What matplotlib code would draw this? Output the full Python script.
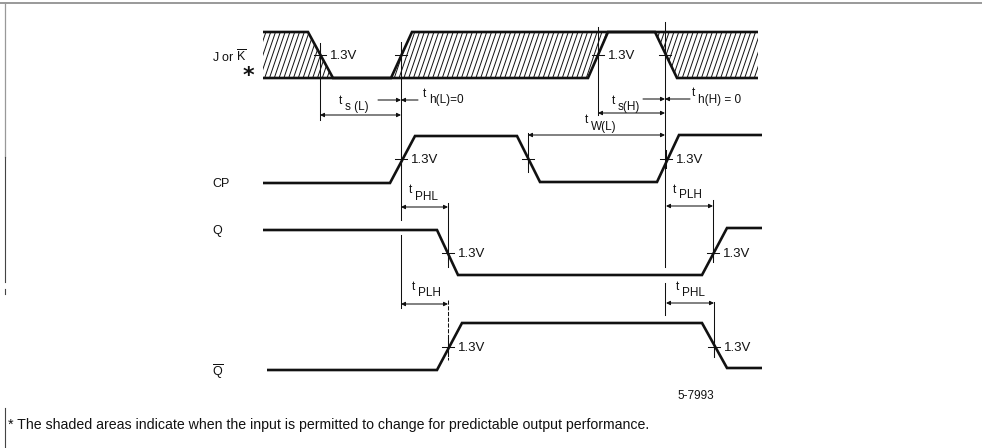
import matplotlib.pyplot as plt
import numpy as np
from matplotlib.patches import Polygon
from matplotlib.collections import LineCollection

# Waveform breakpoints (pixel coordinates of the reference, y grows downward)
jk_upper_x = [263, 308, 333, 391, 412, 758]
jk_upper_y = [32, 32, 78, 78, 32, 32]
jk_lower_x = [263, 588, 608, 655, 677, 758]
jk_lower_y = [78, 78, 32, 32, 78, 78]

cp_x = [263, 390, 415, 517, 540, 657, 679, 762]
cp_y = [183, 183, 136, 136, 182, 182, 135, 135]

q_x = [263, 437, 458, 702, 727, 762]
q_y = [230, 230, 275, 275, 228, 228]

qbar_x = [267, 437, 462, 702, 727, 762]
qbar_y = [370, 370, 323, 323, 368, 368]

signal_names = ['J or $\\overline{\\mathregular{K}}$', 'CP', 'Q', '$\\overline{\\mathregular{Q}}$']
signal_name_y = [57, 184, 231, 372]

# 1.3 V crossing points and whether they carry a label
cross_x = [320, 401, 598, 665, 401, 528, 666, 448, 713, 448, 714]
cross_y = [55, 55, 55, 55, 159, 159, 159, 253, 253, 347, 347]
cross_label = [True, False, True, False, True, False, True, True, True, True, True]

fig = plt.figure(figsize=(9.82, 4.48), dpi=100)
ax = fig.add_axes([0, 0, 1, 1])
ax.set_xlim(0, 982)
ax.set_ylim(448, 0)
ax.axis('off')

wave_lw = 1.9
thin_lw = 0.75
ink = '#111111'
font = 'Liberation Sans'

# page border fragments
ax.plot([0, 982], [3, 3], color='#888888', lw=1.2)
ax.plot([5, 5], [3, 157], color='#999999', lw=0.9)
ax.plot([5, 5], [157, 282], color='#444444', lw=0.8)
ax.plot([5, 5], [289, 294], color='#444444', lw=0.8)
ax.plot([5, 5], [408, 448], color='#444444', lw=0.8)

# shaded (hatched) input region
poly_pts = list(zip(jk_upper_x, jk_upper_y)) + list(zip(jk_lower_x, jk_lower_y))[::-1]
poly = Polygon(poly_pts, closed=True, facecolor='none', edgecolor='none')
ax.add_patch(poly)
segs = [[(x0, 80), (x0 + 17, 30)] for x0 in np.arange(240, 770, 4.8)]
hatch = LineCollection(segs, colors=ink, linewidths=0.7)
hatch.set_clip_path(poly)
ax.add_collection(hatch)

# waveforms
for xs, ys in [(jk_upper_x, jk_upper_y), (jk_lower_x, jk_lower_y), (cp_x, cp_y),
               (q_x, q_y), (qbar_x, qbar_y)]:
    ax.plot(xs, ys, color=ink, lw=wave_lw, solid_joinstyle='miter', solid_capstyle='butt')

# reference (vertical) lines
vlines = [(320, 43, 120), (401, 42, 220), (401, 235, 308), (598, 27, 115),
          (665, 22, 267), (665, 283, 315), (448, 203, 267), (713, 200, 260),
          (714, 302, 357), (528, 133, 172)]
for x, y0, y1 in vlines:
    ax.plot([x, x], [y0, y1], color=ink, lw=thin_lw)
ax.plot([448, 448], [300, 360], color=ink, lw=thin_lw, ls=(0, (4, 1.5)))

# 1.3 V ticks
for x, y, lab in zip(cross_x, cross_y, cross_label):
    ax.plot([x - 6, x + 6], [y, y], color=ink, lw=thin_lw)
    ax.plot([x, x], [y - 9, y + 9], color=ink, lw=thin_lw)
    if lab:
        ax.text(x + 10, y + 1, '1.3V', fontsize=9.5, ha='left', va='center',
                family=font, color=ink)

# signal names
for name, y in zip(signal_names, signal_name_y):
    ax.text(212, y, name, fontsize=9, ha='left', va='center', family=font, color=ink)
ax.text(248, 76, '*', fontsize=16, ha='center', va='center', fontweight='bold', color=ink)

arrow_kw = dict(arrowstyle='-|>', color=ink, lw=thin_lw, mutation_scale=6,
                shrinkA=0, shrinkB=0)


def dim_arrow(x0, x1, y):
    ax.annotate('', xy=(x1, y), xytext=(x0, y),
                arrowprops=dict(arrowstyle='<|-|>', color=ink, lw=thin_lw,
                                mutation_scale=6, shrinkA=0, shrinkB=0))


def inward_arrows(x, y, left, right):
    ax.annotate('', xy=(x, y), xytext=(left, y), arrowprops=arrow_kw)
    ax.annotate('', xy=(x, y), xytext=(right, y), arrowprops=arrow_kw)


def tlabel(x, y, sub, drop=6):
    ax.text(x, y, 't', fontsize=8.5, ha='left', va='center', family=font, color=ink)
    ax.text(x + 6, y + drop, sub, fontsize=8.5, ha='left', va='center',
            family=font, color=ink)


dim_arrow(320, 401, 115)
tlabel(339, 101, 's (L)')
inward_arrows(401, 100, 378, 418)
tlabel(423, 94, 'h(L)=0')

dim_arrow(598, 665, 113)
tlabel(612, 101, 's(H)')
inward_arrows(665, 99, 643, 690)
tlabel(692, 93, 'h(H) = 0', drop=7)

dim_arrow(528, 665, 135)
tlabel(585, 120, 'W(L)', drop=7)

dim_arrow(401, 448, 207)
tlabel(409, 190, 'PHL', drop=7)
dim_arrow(666, 713, 206)
tlabel(673, 190, 'PLH', drop=5)

dim_arrow(401, 448, 304)
tlabel(412, 287, 'PLH', drop=6)
dim_arrow(666, 714, 303)
tlabel(676, 287, 'PHL', drop=6)

ax.text(677, 396, '5-7993', fontsize=8.5, ha='left', va='center', family=font, color=ink)
ax.text(8, 425, '* The shaded areas indicate when the input is permitted to change '
        'for predictable output performance.', fontsize=10.2, ha='left', va='center',
        family=font, color=ink)

fig.savefig('out.png', dpi=100)
